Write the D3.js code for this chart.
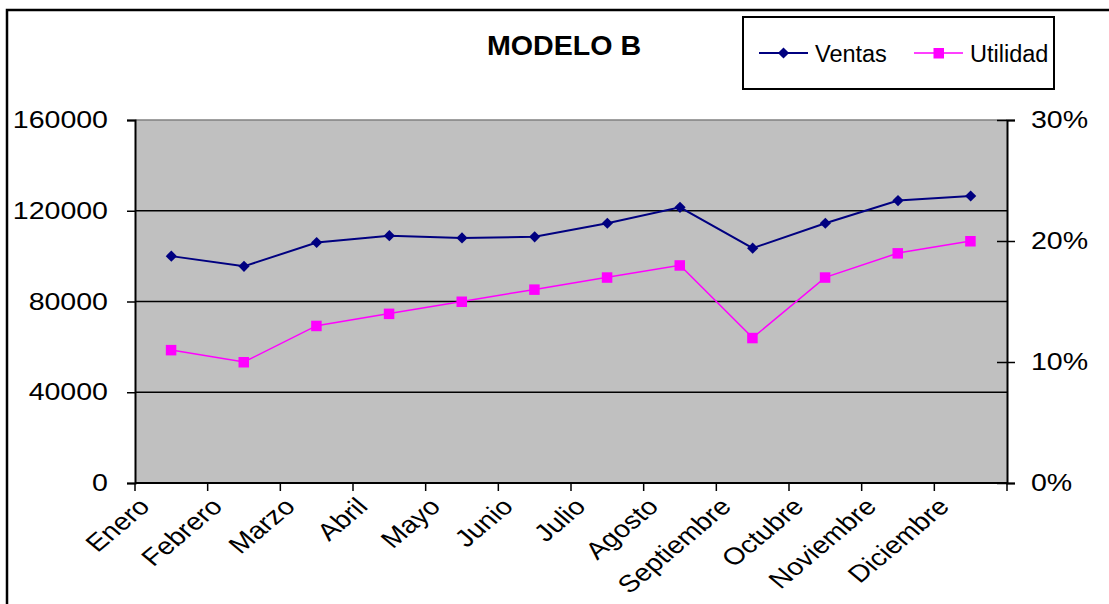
<!DOCTYPE html>
<html>
<head>
<meta charset="utf-8">
<script src="https://cdn.jsdelivr.net/npm/d3@7/dist/d3.min.js"></script>
<style>
  html, body { margin: 0; padding: 0; background: #fff; }
  svg { display: block; }
  text { font-family: "Liberation Sans", Arial, sans-serif; fill: #000; }
</style>
</head>
<body>
<svg id="chart" width="1109" height="604"></svg>
<script>
// Monthly sales (left axis) and profit margin (right axis)
const months = ["Enero", "Febrero", "Marzo", "Abril", "Mayo", "Junio",
                "Julio", "Agosto", "Septiembre", "Octubre", "Noviembre", "Diciembre"];
const ventas = [100000, 95500, 106000, 109000, 108000, 108500,
                114500, 121500, 103500, 114500, 124500, 126500];
const utilidad = [0.11, 0.10, 0.13, 0.14, 0.15, 0.16,
                  0.17, 0.18, 0.12, 0.17, 0.19, 0.20];
const leftTicks = [0, 40000, 80000, 120000, 160000];
const rightTicks = [0, 0.10, 0.20, 0.30];
const title = "MODELO B";
const seriesNames = ["Ventas", "Utilidad"];

const svg = d3.select("#chart");
const plot = { left: 135, right: 1007, top: 120, bottom: 483 };
const WIDE = 1.19; // horizontal stretch of the axis lettering

// outer chart frame (right and bottom edges run off the page)
svg.append("rect")
  .attr("x", 7).attr("y", 10)
  .attr("width", 1200).attr("height", 700)
  .attr("fill", "#fff").attr("stroke", "#000").attr("stroke-width", 2.5);

const x = d3.scaleBand().domain(months).range([plot.left, plot.right]).padding(0);
const yL = d3.scaleLinear().domain([0, 160000]).range([plot.bottom, plot.top]);
const yR = d3.scaleLinear().domain([0, 0.30]).range([plot.bottom, plot.top]);
const cx = m => x(m) + x.bandwidth() / 2;

// plot area
svg.append("rect")
  .attr("x", plot.left).attr("y", plot.top)
  .attr("width", plot.right - plot.left).attr("height", plot.bottom - plot.top)
  .attr("fill", "#C0C0C0");
svg.append("line")
  .attr("x1", plot.left).attr("x2", plot.right)
  .attr("y1", plot.top).attr("y2", plot.top)
  .attr("stroke", "#808080").attr("stroke-width", 1.5);

// horizontal gridlines
svg.append("g").selectAll("line")
  .data(leftTicks.filter(t => t > 0 && t < 160000))
  .join("line")
  .attr("x1", plot.left).attr("x2", plot.right)
  .attr("y1", d => yL(d)).attr("y2", d => yL(d))
  .attr("stroke", "#000").attr("stroke-width", 1.5);

// widen tick text about its own anchor x
function widen(sel) {
  sel.each(function () {
    const t = d3.select(this);
    const tx = +t.attr("x") || 0;
    t.attr("transform", `translate(${tx},0) scale(${WIDE},1) translate(${-tx},0)`);
  });
}

// left axis
const gL = svg.append("g").attr("transform", `translate(${plot.left},0)`)
  .call(d3.axisLeft(yL).tickValues(leftTicks).tickFormat(d3.format("d"))
    .tickSize(8).tickPadding(19));
gL.select(".domain").attr("stroke", "#000").attr("stroke-width", 2);
gL.selectAll(".tick line").attr("stroke", "#000").attr("stroke-width", 1.5);
gL.selectAll(".tick text").attr("font-size", 24)
  .attr("font-family", "'Liberation Sans', Arial, sans-serif").call(widen);

// right axis (ticks cross the axis line)
const gR = svg.append("g").attr("transform", `translate(${plot.right},0)`)
  .call(d3.axisRight(yR).tickValues(rightTicks).tickFormat(d3.format(".0%"))
    .tickSize(8).tickPadding(16));
gR.select(".domain").attr("stroke", "#000").attr("stroke-width", 2);
gR.selectAll(".tick line").attr("stroke", "#000").attr("stroke-width", 1.5).attr("x1", -10);
gR.selectAll(".tick text").attr("font-size", 24)
  .attr("font-family", "'Liberation Sans', Arial, sans-serif").call(widen);

// category axis: ticks at category boundaries
const bounds = months.map(m => x(m)).concat([plot.right]);
svg.append("line")
  .attr("x1", plot.left).attr("x2", plot.right)
  .attr("y1", plot.bottom).attr("y2", plot.bottom)
  .attr("stroke", "#000").attr("stroke-width", 2);
svg.append("g").selectAll("line").data(bounds).join("line")
  .attr("x1", d => d).attr("x2", d => d)
  .attr("y1", plot.bottom).attr("y2", plot.bottom + 8)
  .attr("stroke", "#000").attr("stroke-width", 1.5);
svg.append("g").selectAll("text").data(months).join("text")
  .attr("transform", d => `translate(${cx(d) - 20},${plot.bottom + 25}) scale(${WIDE},1) rotate(-45)`)
  .attr("text-anchor", "end")
  .attr("font-size", 24)
  .text(d => d);

// series lines
const lineV = d3.line().x((d, i) => cx(months[i])).y(d => yL(d));
const lineU = d3.line().x((d, i) => cx(months[i])).y(d => yR(d));
svg.append("path").datum(ventas).attr("d", lineV)
  .attr("fill", "none").attr("stroke", "#000080").attr("stroke-width", 2);
svg.append("path").datum(utilidad).attr("d", lineU)
  .attr("fill", "none").attr("stroke", "#FF00FF").attr("stroke-width", 1.5);

const diamond = d3.symbol().type(d3.symbolDiamond2).size(80);
svg.append("g").selectAll("path").data(ventas).join("path")
  .attr("d", diamond)
  .attr("transform", (d, i) => `translate(${cx(months[i])},${yL(d)})`)
  .attr("fill", "#000080");
svg.append("g").selectAll("rect").data(utilidad).join("rect")
  .attr("x", (d, i) => cx(months[i]) - 5.5).attr("y", d => yR(d) - 5)
  .attr("width", 10.5).attr("height", 10.5)
  .attr("fill", "#FF00FF");

// title
svg.append("text")
  .attr("transform", "translate(564,55) scale(1.06,1)")
  .attr("text-anchor", "middle")
  .attr("font-size", 27).attr("font-weight", "bold")
  .text(title);

// legend
const lg = svg.append("g");
lg.append("rect").attr("x", 743).attr("y", 17).attr("width", 311).attr("height", 72)
  .attr("fill", "#fff").attr("stroke", "#000").attr("stroke-width", 2);
const legendItems = [
  { name: seriesNames[0], color: "#000080", x0: 759, w: 2, marker: "diamond" },
  { name: seriesNames[1], color: "#FF00FF", x0: 914, w: 1.5, marker: "square" }
];
const ly = 53;
legendItems.forEach(it => {
  lg.append("line").attr("x1", it.x0).attr("x2", it.x0 + 49)
    .attr("y1", ly).attr("y2", ly).attr("stroke", it.color).attr("stroke-width", it.w);
  if (it.marker === "diamond") {
    lg.append("path").attr("d", diamond)
      .attr("transform", `translate(${it.x0 + 24.5},${ly})`)
      .attr("fill", it.color);
  } else {
    lg.append("rect").attr("x", it.x0 + 24.5 - 5).attr("y", ly - 5)
      .attr("width", 10.5).attr("height", 10.5).attr("fill", it.color);
  }
  lg.append("text").attr("x", it.x0 + 56).attr("y", ly + 8.5)
    .attr("font-size", 23.5).text(it.name);
});
</script>
</body>
</html>
